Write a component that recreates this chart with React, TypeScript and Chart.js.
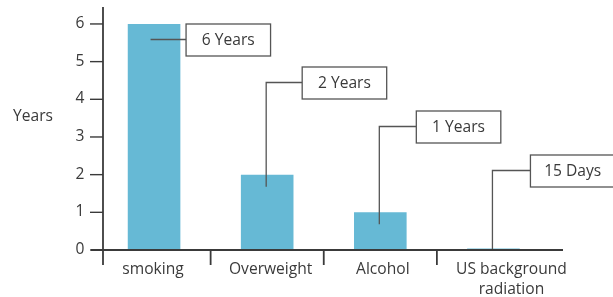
import React, { useEffect, useRef } from "react";
import { Chart, registerables } from "chart.js";

Chart.register(...registerables);

// ---- data ----
const categories: (string | string[])[] = ["smoking", "Overweight", "Alcohol", ["US background", "radiation"]];
const lifeLostYears: number[] = [6, 2, 1, 15 / 365];
const calloutLabels: string[] = ["6 Years", "2 Years", "1 Years", "15 Days"];
const yTickValues: number[] = [0, 1, 2, 3, 4, 5, 6];
const yAxisTitle = "Years";

// ---- style / layout ----
const BAR_COLOR = "#66b9d5";
const TEXT_COLOR = "#3a3a3a";
const LINE_COLOR = "#3a3a3a";
const FONT_FAMILY = "'Open Sans', 'Noto Sans', sans-serif";
const FONT_SIZE = 15.6;
const BOX_TOPS = [24, 67, 111, 155];
const BOX_DX = [32, 35, 36, 37];
const BOX_W = 84.5;
const BOX_H = 32;
const LABEL_DX = [-1, 3.5, 2.5, 18];

const annotatePlugin = {
  id: "annotate",
  afterDatasetsDraw(chart: any) {
    const { ctx, chartArea } = chart;
    const xs = chart.scales.x;
    const ys = chart.scales.y;
    const base = ys.getPixelForValue(0);
    const axisX = chartArea.left + 5.5;
    ctx.save();
    ctx.strokeStyle = LINE_COLOR;
    ctx.lineCap = "butt";

    // y axis line
    ctx.lineWidth = 1.8;
    ctx.beginPath();
    ctx.moveTo(axisX, chartArea.top);
    ctx.lineTo(axisX, base + 15);
    ctx.stroke();

    // x axis line
    ctx.beginPath();
    ctx.moveTo(axisX - 12, base);
    ctx.lineTo(chartArea.right + 13, base);
    ctx.stroke();

    // y tick marks + labels
    ctx.font = `${FONT_SIZE}px ${FONT_FAMILY}`;
    ctx.fillStyle = TEXT_COLOR;
    ctx.lineWidth = 1.4;
    yTickValues.forEach((v) => {
      const y = ys.getPixelForValue(v);
      ctx.beginPath();
      ctx.moveTo(axisX - 13, y);
      ctx.lineTo(axisX, y);
      ctx.stroke();
      ctx.textAlign = "right";
      ctx.textBaseline = "middle";
      ctx.fillText(String(v), axisX - 18.5, y - 0.5);
    });

    // category boundary ticks
    ctx.lineWidth = 1.8;
    for (let i = 1; i < categories.length; i++) {
      const bx = (xs.getPixelForValue(i - 1) + xs.getPixelForValue(i)) / 2;
      ctx.beginPath();
      ctx.moveTo(bx, base);
      ctx.lineTo(bx, base + 15);
      ctx.stroke();
    }

    // category labels
    ctx.textAlign = "center";
    ctx.textBaseline = "middle";
    categories.forEach((c, i) => {
      const lines = Array.isArray(c) ? c : [c];
      const cx = xs.getPixelForValue(i) + LABEL_DX[i];
      lines.forEach((t, j) => {
        ctx.fillText(t, cx, base + 19.5 + j * 20.5);
      });
    });

    // y axis title
    ctx.fillText(yAxisTitle, 33, ys.getPixelForValue(3.53));

    // callouts
    ctx.lineWidth = 1.3;
    ctx.strokeStyle = "#555555";
    const meta = chart.getDatasetMeta(0);
    lifeLostYears.forEach((v, i) => {
      const el = meta.data[i];
      const cx = el.x;
      const topY = ys.getPixelForValue(v);
      const boxL = cx + BOX_DX[i];
      const boxT = BOX_TOPS[i];
      const ly = boxT + 15.5;
      ctx.beginPath();
      if (i === 0) {
        ctx.moveTo(cx - 3.5, ly);
        ctx.lineTo(boxL, ly);
      } else {
        const endY = Math.min(topY + 12, base - 1);
        ctx.moveTo(cx - 1, endY);
        ctx.lineTo(cx - 1, ly);
        ctx.lineTo(boxL, ly);
      }
      ctx.stroke();
      ctx.fillStyle = "#ffffff";
      ctx.fillRect(boxL, boxT, BOX_W, BOX_H);
      ctx.strokeRect(boxL, boxT, BOX_W, BOX_H);
      ctx.fillStyle = TEXT_COLOR;
      ctx.textAlign = "center";
      ctx.textBaseline = "middle";
      ctx.fillText(calloutLabels[i], boxL + BOX_W / 2, boxT + BOX_H / 2 + 0.5);
    });
    ctx.restore();
  },
};

export default function App() {
  const ref = useRef<HTMLCanvasElement | null>(null);
  useEffect(() => {
    if (!ref.current) return;
    const chart = new Chart(ref.current, {
      type: "bar",
      data: {
        labels: categories,
        datasets: [
          {
            data: lifeLostYears,
            backgroundColor: BAR_COLOR,
            borderWidth: 0,
            categoryPercentage: 1,
            barPercentage: 0.465,
          },
        ],
      },
      options: {
        animation: false,
        responsive: false,
        maintainAspectRatio: false,
        layout: { padding: { top: 7, right: 63, bottom: 0, left: 0 } },
        plugins: { legend: { display: false }, tooltip: { enabled: false } },
        scales: {
          x: {
            type: "category",
            offset: true,
            grid: { display: false },
            border: { display: false },
            ticks: { display: false },
            afterFit: (s: any) => {
              s.height = 47;
            },
          },
          y: {
            min: 0,
            max: 6.45,
            afterBuildTicks: (s: any) => {
              s.ticks = yTickValues.map((v) => ({ value: v }));
            },
            grid: { display: false },
            border: { display: false },
            ticks: { display: false },
            afterFit: (s: any) => {
              s.width = 97.5;
            },
          },
        },
      },
      plugins: [annotatePlugin],
    } as any);
    return () => chart.destroy();
  }, []);
  return (
    <div style={{ position: "absolute", left: 0, top: 0, width: 613, height: 297 }}>
      <canvas ref={ref} width={613} height={297} />
    </div>
  );
}
